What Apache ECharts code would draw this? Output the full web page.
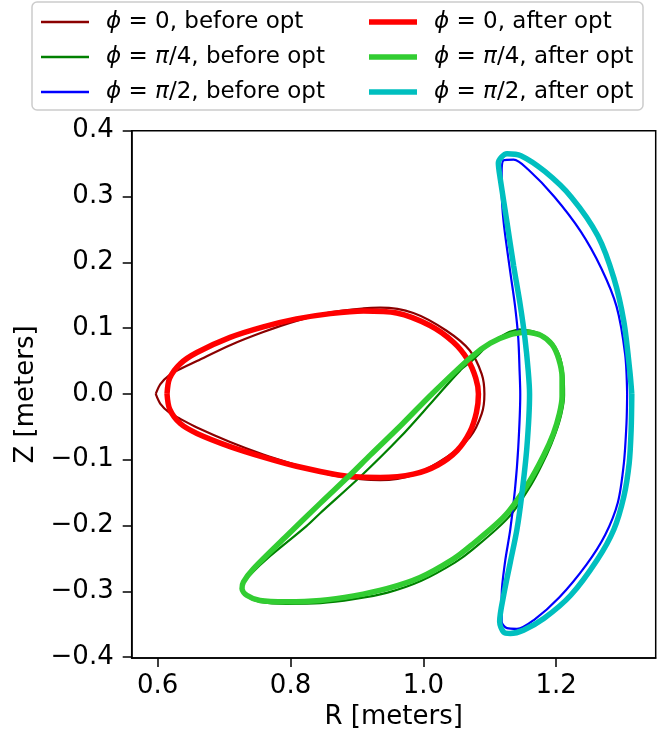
<!DOCTYPE html>
<html>
<head>
<meta charset="utf-8">
<script src="https://cdn.jsdelivr.net/npm/echarts@6/dist/echarts.min.js"></script>
<style>
  html, body { margin: 0; padding: 0; background: #fff; }
  #chart { width: 670px; height: 735px; }
</style>
</head>
<body>
<div id="chart"></div>
<script>
// cross sections [R, Z]
const phi0Before = [
  [0.597, 0.000], [0.604, 0.015], [0.618, 0.029], [0.634, 0.038], [0.659, 0.050],
  [0.709, 0.074], [0.759, 0.094], [0.809, 0.111], [0.860, 0.124], [0.910, 0.130],
  [0.935, 0.131], [0.985, 0.123], [1.035, 0.096], [1.070, 0.066], [1.088, 0.030],
  [1.092, 0.000], [1.088, -0.030], [1.070, -0.066], [1.035, -0.096], [0.985, -0.123],
  [0.935, -0.131], [0.910, -0.130], [0.860, -0.123], [0.809, -0.108], [0.759, -0.092],
  [0.709, -0.073], [0.659, -0.051], [0.634, -0.038], [0.618, -0.029], [0.604, -0.015],
  [0.597, 0.000]
];
const phi4Before = [
  [1.146, 0.098], [1.172, 0.093], [1.192, 0.080], [1.205, 0.058], [1.211, 0.028],
  [1.212, -0.002], [1.208, -0.030], [1.199, -0.060], [1.186, -0.092], [1.163, -0.137],
  [1.128, -0.188], [1.075, -0.236], [1.048, -0.256], [0.997, -0.284], [0.946, -0.302],
  [0.895, -0.312], [0.845, -0.318], [0.794, -0.319], [0.754, -0.316], [0.735, -0.308],
  [0.727, -0.297], [0.730, -0.286], [0.745, -0.269], [0.764, -0.251], [0.824, -0.201],
  [0.845, -0.181], [0.905, -0.126], [0.965, -0.066], [1.015, -0.010], [1.055, 0.035],
  [1.075, 0.052], [1.100, 0.076], [1.127, 0.093], [1.146, 0.098]
];
const phi2Before = [
  [1.307, 0.000], [1.304, 0.060], [1.291, 0.133], [1.268, 0.191], [1.237, 0.247],
  [1.197, 0.300], [1.158, 0.341], [1.136, 0.356], [1.121, 0.355], [1.118, 0.336],
  [1.118, 0.311], [1.121, 0.261], [1.131, 0.185], [1.138, 0.135], [1.143, 0.085],
  [1.145, 0.035], [1.146, 0.000], [1.143, -0.081], [1.138, -0.146], [1.131, -0.206],
  [1.123, -0.256], [1.118, -0.306], [1.118, -0.346], [1.126, -0.356], [1.141, -0.357],
  [1.166, -0.344], [1.205, -0.309], [1.246, -0.259], [1.274, -0.214], [1.293, -0.165],
  [1.302, -0.106], [1.306, -0.045], [1.307, 0.000]
];
const phi0After = [
  [0.614, 0.000], [0.618, 0.024], [0.634, 0.046], [0.659, 0.063], [0.709, 0.086],
  [0.759, 0.102], [0.809, 0.114], [0.860, 0.122], [0.910, 0.126], [0.960, 0.123],
  [1.010, 0.104], [1.045, 0.079], [1.067, 0.052], [1.079, 0.024], [1.083, 0.000],
  [1.080, -0.028], [1.070, -0.058], [1.051, -0.086], [1.022, -0.108], [0.985, -0.122],
  [0.935, -0.127], [0.885, -0.125], [0.860, -0.121], [0.809, -0.110], [0.759, -0.096],
  [0.709, -0.080], [0.659, -0.060], [0.634, -0.045], [0.618, -0.023], [0.614, 0.000]
];
const phi4After = [
  [1.156, 0.094], [1.177, 0.089], [1.194, 0.075], [1.204, 0.053], [1.209, 0.025],
  [1.209, -0.004], [1.205, -0.030], [1.196, -0.060], [1.181, -0.094], [1.158, -0.136],
  [1.123, -0.185], [1.071, -0.231], [1.045, -0.251], [0.995, -0.279], [0.945, -0.296],
  [0.895, -0.307], [0.845, -0.314], [0.794, -0.316], [0.754, -0.314], [0.734, -0.306],
  [0.727, -0.296], [0.729, -0.286], [0.744, -0.266], [0.794, -0.216], [0.845, -0.166],
  [0.890, -0.123], [0.920, -0.093], [0.968, -0.046], [1.013, 0.000], [1.071, 0.055],
  [1.101, 0.077], [1.131, 0.090], [1.156, 0.094]
];
const phi2After = [
  [1.314, 0.000], [1.311, 0.035], [1.302, 0.110], [1.287, 0.176], [1.263, 0.240],
  [1.223, 0.299], [1.183, 0.338], [1.147, 0.362], [1.126, 0.365], [1.113, 0.351],
  [1.116, 0.326], [1.126, 0.261], [1.136, 0.195], [1.146, 0.135], [1.153, 0.085],
  [1.158, 0.035], [1.160, 0.000], [1.156, -0.081], [1.148, -0.156], [1.141, -0.206],
  [1.131, -0.256], [1.121, -0.306], [1.115, -0.346], [1.121, -0.362], [1.131, -0.364],
  [1.151, -0.359], [1.182, -0.341], [1.222, -0.306], [1.262, -0.252], [1.287, -0.206],
  [1.302, -0.156], [1.310, -0.106], [1.313, -0.055], [1.314, 0.000]
];

const xTicks = [0.6, 0.8, 1.0, 1.2];
const yTicks = [-0.4, -0.3, -0.2, -0.1, 0.0, 0.1, 0.2, 0.3, 0.4];

const beforeNames = ['ϕ = 0, before opt', 'ϕ = π/4, before opt', 'ϕ = π/2, before opt'];
const afterNames = ['ϕ = 0, after opt', 'ϕ = π/4, after opt', 'ϕ = π/2, after opt'];

const FONT = 'DejaVu Sans';
const FS = 26;   // ticks and axis names
const LFS = 23;  // legend

function tickText(v) {
  const s = Math.abs(v).toFixed(1);
  return v < -1e-9 ? '\u2212' + s : s;
}

function curve(name, data, color, width) {
  return {
    name: name,
    type: 'line',
    data: data,
    symbol: 'none',
    showSymbol: false,
    smooth: 0.3,
    lineStyle: { color: color, width: width },
    itemStyle: { color: color },
    emphasis: { disabled: true },
    silent: true
  };
}

const legendText = {
  color: '#000',
  fontFamily: FONT,
  fontSize: LFS,
  lineHeight: 28,
  rich: {
    g: { width: 12, fontSize: LFS },
    i: { fontStyle: 'italic', fontFamily: FONT, fontSize: LFS, color: '#000' }
  }
};

function legendLabel(name) {
  return '{g| }' + name.replace(/([ϕπ])/g, '{i|$1}');
}

const chart = echarts.init(document.getElementById('chart'), null, { renderer: 'canvas' });

const option = {
  backgroundColor: '#fff',
  animation: false,
  textStyle: { fontFamily: FONT },
  graphic: [{
    type: 'rect',
    shape: { x: 32, y: 2, width: 611, height: 108, r: 5 },
    style: { fill: '#fff', stroke: '#cccccc', lineWidth: 1.5 },
    z: 0
  }],
  legend: [
    {
      data: beforeNames, orient: 'vertical', left: 41, top: 8, padding: 0,
      icon: 'rect', itemWidth: 48, itemHeight: 2.5, itemGap: 7,
      formatter: legendLabel, textStyle: legendText, selectedMode: false, z: 5
    },
    {
      data: afterNames, orient: 'vertical', left: 369, top: 8, padding: 0,
      icon: 'rect', itemWidth: 48, itemHeight: 5.5, itemGap: 7,
      formatter: legendLabel, textStyle: legendText, selectedMode: false, z: 5
    }
  ],
  grid: {
    left: 131.7, right: 14.3, top: 130.7, bottom: 71.7,
    show: true, borderColor: '#000', borderWidth: 1.5, backgroundColor: 'transparent'
  },
  xAxis: {
    type: 'value',
    min: 0.5608, max: 1.350,
    name: 'R [meters]', nameLocation: 'middle', nameGap: 36,
    nameTextStyle: { fontSize: FS, color: '#000', fontFamily: FONT },
    axisLine: { show: true, onZero: false, lineStyle: { color: '#000', width: 1.5 } },
    axisTick: { show: true, length: 9, inside: false, customValues: xTicks, lineStyle: { color: '#000', width: 1.5 } },
    axisLabel: { customValues: xTicks, formatter: tickText, fontSize: FS, color: '#000', margin: 15, fontFamily: FONT },
    splitLine: { show: false }
  },
  yAxis: {
    type: 'value',
    min: -0.4015, max: 0.4,
    name: 'Z [meters]', nameLocation: 'middle', nameGap: 85, nameRotate: 90,
    nameTextStyle: { fontSize: FS, color: '#000', fontFamily: FONT },
    axisLine: { show: true, onZero: false, lineStyle: { color: '#000', width: 1.5 } },
    axisTick: { show: true, length: 9, inside: false, customValues: yTicks, lineStyle: { color: '#000', width: 1.5 } },
    axisLabel: { customValues: yTicks, formatter: tickText, fontSize: FS, color: '#000', margin: 18, fontFamily: FONT },
    splitLine: { show: false }
  },
  series: [
    curve(beforeNames[0], phi0Before, '#8b0000', 2.2),
    curve(beforeNames[1], phi4Before, '#008000', 2.2),
    curve(beforeNames[2], phi2Before, '#0000ff', 2.2),
    curve(afterNames[0], phi0After, '#ff0000', 5.5),
    curve(afterNames[1], phi4After, '#32cd32', 5.5),
    curve(afterNames[2], phi2After, '#00bfbf', 5.5)
  ]
};

chart.setOption(option);
</script>
</body>
</html>
